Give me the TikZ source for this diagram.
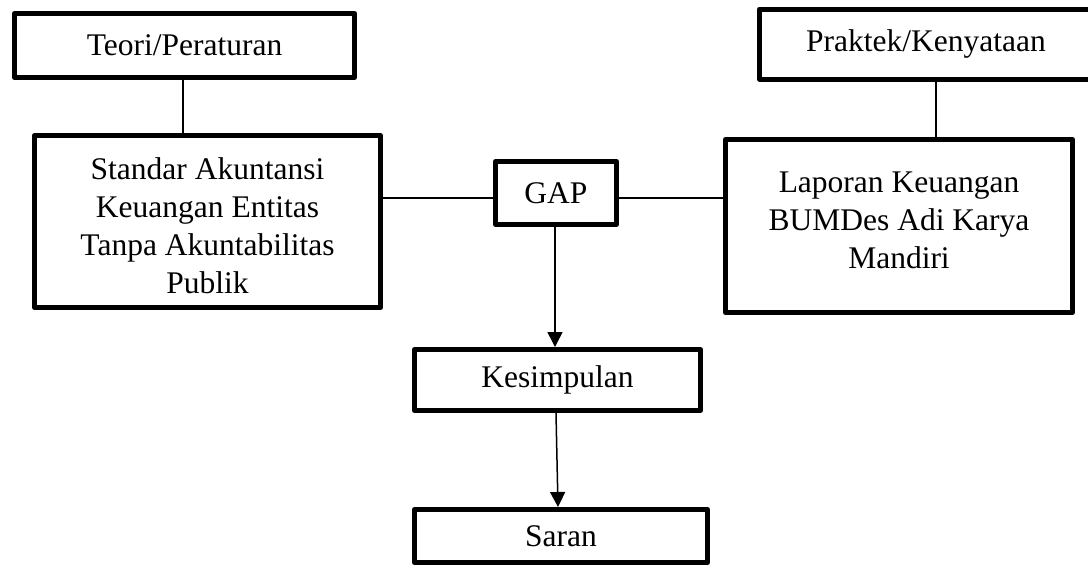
\documentclass[tikz,border=0pt]{standalone}
\usepackage{fontspec}
\setmainfont{Liberation Serif}
\usetikzlibrary{arrows.meta}
\begin{document}
\begin{tikzpicture}[x=1pt,y=-1pt,
  box/.style={draw,line width=5pt,rectangle,inner sep=0pt,align=center,
    font=\fontsize{31.5}{38}\selectfont,line join=round},
  conn/.style={line width=1.5pt},
  arr/.style={line width=1.5pt,-{Triangle[length=15pt,width=15pt]}}]
\useasboundingbox (0,0) rectangle (1088,568);
\clip (0,0) rectangle (1088,568);
\fill[white] (0,0) rectangle (1088,568);
\node[box,minimum width=340pt,minimum height=64pt] (teori) at (184.5,45.5) {Teori/Peraturan};
\node[box,minimum width=346pt,minimum height=172pt] (standar) at (207.5,221.5)
  {\rule{0pt}{30pt}Standar Akuntansi\\Keuangan Entitas\\Tanpa Akuntabilitas\\Publik};
\node[box,draw=none,minimum width=360pt,minimum height=65pt] (praktek) at (942,44) {Praktek/Kenyataan\hspace*{32pt}};
\draw[line width=5pt,line join=round] (praktek.north east) -- (praktek.north west)
  -- (praktek.south west) -- (praktek.south east);
\node[box,minimum width=347pt,minimum height=173pt] (laporan) at (899,226)
  {Laporan Keuangan\\BUMDes Adi Karya\\Mandiri\rule[-12pt]{0pt}{0pt}};
\node[box,minimum width=121pt,minimum height=63pt] (gap) at (556,193) {GAP};
\node[box,minimum width=286pt,minimum height=61pt] (kes) at (557.5,380) {Kesimpulan};
\node[box,minimum width=293pt,minimum height=53pt] (saran) at (561,536) {Saran};
\coordinate (gy) at (0,198);
\coordinate (px) at (936,0);
\coordinate (kx) at (555,0);
\draw[conn] ([xshift=-1.5pt]teori.south) -- ([xshift=-1.5pt]teori.south |- standar.north);
\draw[conn] (praktek.south -| px) -- (laporan.north -| px);
\draw[conn] (standar.east |- gy) -- (gap.west |- gy);
\draw[conn] (gap.east |- gy) -- (laporan.west |- gy);
\draw[arr] (gap.south -| kx) -- (kes.north -| kx);
\draw[arr] ([xshift=-1.5pt]kes.south) -- ([xshift=0.5pt]kes.south |- saran.north);
\end{tikzpicture}
\end{document}
